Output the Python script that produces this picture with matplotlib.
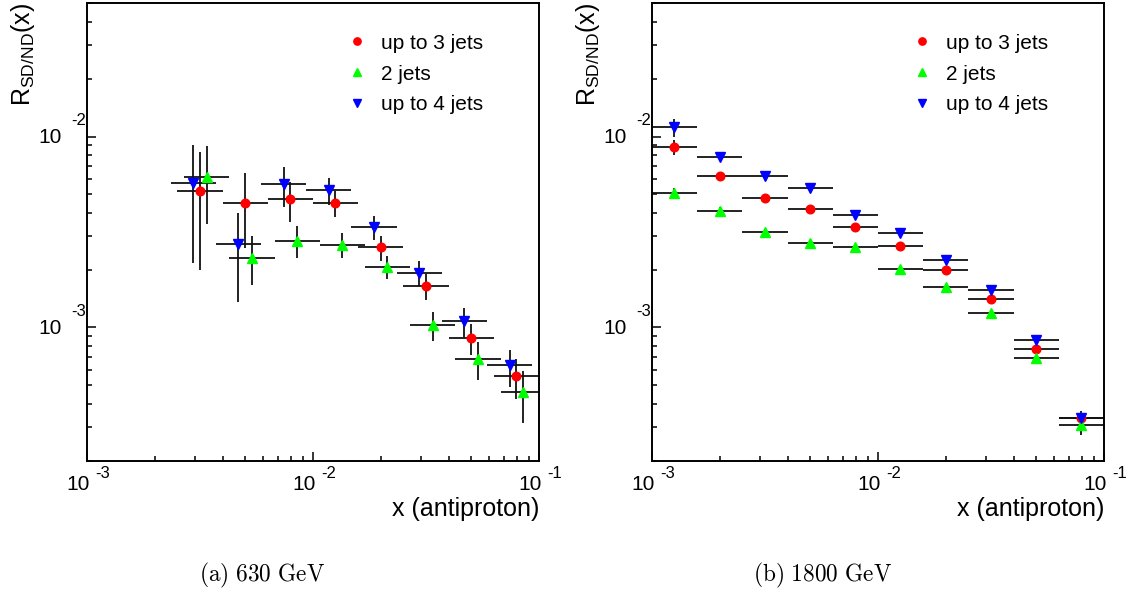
import numpy as np
import matplotlib
matplotlib.use("Agg")
import matplotlib.pyplot as plt
from matplotlib import transforms

plt.rcParams['font.family'] = ['Liberation Sans', 'DejaVu Sans']
plt.rcParams['mathtext.fontset'] = 'custom'
plt.rcParams['mathtext.rm'] = 'Liberation Sans'
plt.rcParams['mathtext.it'] = 'Liberation Sans:italic'
plt.rcParams['mathtext.bf'] = 'Liberation Sans:bold'

# ---------------- 630 GeV ----------------
edges_630 = [0.00251, 0.00398, 0.00631, 0.0100, 0.0158, 0.0251, 0.0398, 0.0631, 0.100]

up3_630 = [0.00519, 0.00451, 0.00472, 0.00451, 0.00264, 0.00165, 0.000876, 0.000555]
up3_630_low = [0.00200, 0.00260, 0.00358, 0.00378, 0.00224, 0.00140, 0.000716, 0.000424]
up3_630_high = [0.00834, 0.00643, 0.00581, 0.00519, 0.00302, 0.00190, 0.00104, 0.000682]

two_630 = [0.00613, 0.00232, 0.00284, 0.00270, 0.00207, 0.00103, 0.000682, 0.000459]
two_630_low = [0.00347, 0.00167, 0.00230, 0.00230, 0.00179, 0.000851, 0.000533, 0.000315]
two_630_high = [0.00887, 0.00302, 0.00340, 0.00314, 0.00237, 0.00121, 0.000840, 0.000592]

up4_630 = [0.00570, 0.00273, 0.00565, 0.00526, 0.00337, 0.00194, 0.00108, 0.000634]
up4_630_low = [0.00218, 0.00136, 0.00427, 0.00439, 0.00287, 0.00165, 0.000893, 0.000488]
up4_630_high = [0.00906, 0.00400, 0.00692, 0.00610, 0.00384, 0.00224, 0.00126, 0.000766]

# ---------------- 1800 GeV ----------------
edges_1800 = [0.00100, 0.00158, 0.00251, 0.00398, 0.00631, 0.0100, 0.0158,
              0.0251, 0.0398, 0.0631, 0.100]

up3_1800 = [0.00877, 0.00622, 0.00477, 0.00416, 0.00334, 0.00267, 0.00200,
            0.00141, 0.000769, 0.000335]
up3_1800_err = [0.0008, 0.0003, 0.0002, 0.00012, 0.0001, 0.00008, 0.00006,
                0.00004, 0.00002, 0.00001]

two_1800 = [0.00509, 0.00408, 0.00318, 0.00276, 0.00265, 0.00203, 0.00163,
            0.00119, 0.000696, 0.000307]
two_1800_err = [0.0003, 0.0002, 0.0001, 0.00008, 0.00006, 0.00005, 0.00004,
                0.00003, 0.00002, 0.000035]

up4_1800 = [0.01117, 0.00780, 0.00622, 0.00537, 0.00389, 0.00314, 0.00226,
            0.00157, 0.000858, 0.000337]
up4_1800_err = [0.0012, 0.0004, 0.0002, 0.00015, 0.0001, 0.00008, 0.00006,
                0.00004, 0.00003, 0.00003]

series_labels = ["up to 3 jets", "2 jets", "up to 4 jets"]
series_colors = ["#ff0000", "#00ff00", "#0000ff"]
series_markers = ["o", "^", "v"]
captions = [r"$\mathrm{(a)\ 630\ GeV}$", r"$\mathrm{(b)\ 1800\ GeV}$"]

W, H = 1144, 594
fig = plt.figure(figsize=(W / 100, H / 100), dpi=100)
axL = fig.add_axes([87 / W, 133 / H, 452 / W, 458 / H])
axR = fig.add_axes([652 / W, 133 / H, 452 / W, 458 / H])


def draw_series(ax, edges, vals, lo, hi, shift, color, marker, label):
    e = np.log10(np.asarray(edges)) + shift
    xl = 10 ** e[:-1]
    xh = 10 ** e[1:]
    xc = 10 ** (0.5 * (e[:-1] + e[1:]))
    v = np.asarray(vals)
    yerr = [v - np.asarray(lo), np.asarray(hi) - v]
    xerr = [xc - xl, xh - xc]
    ax.errorbar(xc, v, xerr=xerr, yerr=yerr, fmt='none', ecolor='#111111',
                elinewidth=1.3, capsize=0, zorder=2, clip_on=True)
    ms = 6.2 if marker == 'o' else 6.8
    ax.plot(xc, v, linestyle='none', marker=marker, color=color, ms=ms,
            mec=color, label=label, zorder=3)


def style_axes(ax):
    ax.set_xscale('log')
    ax.set_yscale('log')
    ax.set_xlim(1e-3, 1e-1)
    ax.set_ylim(2e-4, 5e-2)
    for s in ax.spines.values():
        s.set_linewidth(1.4)
    ax.tick_params(which='both', direction='in', top=False, right=False,
                   labelbottom=False, labelleft=False, width=1.1)
    ax.tick_params(which='major', length=6.5)
    ax.tick_params(which='minor', length=3.3)

    # ROOT-style "10 ^exp" tick labels
    tx = transforms.blended_transform_factory(ax.transData, ax.transAxes)
    for k in (-3, -2, -1):
        v = 10.0 ** k
        ax.text(v, 0, "10", fontsize=15, ha='right', va='center',
                transform=transforms.offset_copy(tx, fig=fig, x=3, y=-24, units='dots'))
        ax.text(v, 0, str(k), fontsize=12, ha='left', va='center',
                transform=transforms.offset_copy(tx, fig=fig, x=8, y=-13, units='dots'))
    ty = transforms.blended_transform_factory(ax.transAxes, ax.transData)
    for k in (-3, -2):
        v = 10.0 ** k
        ax.text(0, v, "10", fontsize=15, ha='right', va='center',
                transform=transforms.offset_copy(ty, fig=fig, x=-25, y=-1, units='dots'))
        ax.text(0, v, str(k), fontsize=12, ha='right', va='center',
                transform=transforms.offset_copy(ty, fig=fig, x=-1, y=16, units='dots'))

    ax.text(1.0, -0.105, "x (antiproton)", fontsize=18, ha='right', va='center',
            transform=ax.transAxes)
    ax.set_ylabel(r"R$_{\mathregular{SD/ND}}$(x)", fontsize=18, loc='top',
                  labelpad=36)
    ax.legend(loc='upper left', bbox_to_anchor=(0.569, 0.933), frameon=False,
              fontsize=15, handlelength=1.2, handletextpad=0.55,
              labelspacing=0.57, borderpad=0, borderaxespad=0, markerscale=0.85)


# 630 GeV: series drawn side by side within each bin
shifts_630 = [0.0, 0.03, -0.03]
data_630 = [(up3_630, up3_630_low, up3_630_high),
            (two_630, two_630_low, two_630_high),
            (up4_630, up4_630_low, up4_630_high)]
for (vals, lo, hi), sh, c, m, lab in zip(data_630, shifts_630, series_colors,
                                          series_markers, series_labels):
    draw_series(axL, edges_630, vals, lo, hi, sh, c, m, lab)

data_1800 = [(up3_1800, up3_1800_err), (two_1800, two_1800_err),
             (up4_1800, up4_1800_err)]
for (vals, err), c, m, lab in zip(data_1800, series_colors, series_markers,
                                   series_labels):
    v = np.asarray(vals)
    e = np.asarray(err)
    draw_series(axR, edges_1800, v, v - e, v + e, 0.0, c, m, lab)

style_axes(axL)
style_axes(axR)

fig.text(262 / W, 1 - 575 / H, captions[0], fontsize=16.8, ha='center', va='center',
         math_fontfamily='cm')
fig.text(823 / W, 1 - 575 / H, captions[1], fontsize=16.8, ha='center', va='center',
         math_fontfamily='cm')

fig.savefig("out.png", dpi=100)
